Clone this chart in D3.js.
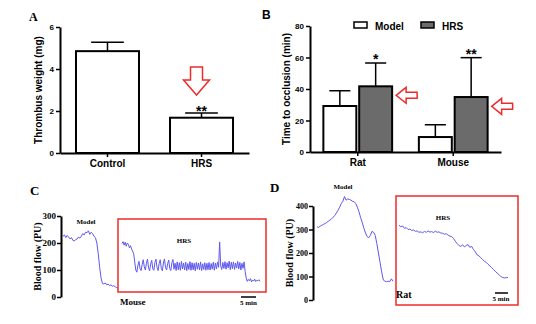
<!DOCTYPE html>
<html>
<head>
<meta charset="utf-8">
<script src="https://cdn.jsdelivr.net/npm/d3@7"></script>
<style>
  body { margin: 0; background: #fff; }
  svg { display: block; }
  .sans text, text.sans { font-family: "Liberation Sans", Arial, sans-serif; font-weight: bold; }
  .serif text, text.serif { font-family: "Liberation Serif", "Times New Roman", serif; font-weight: bold; }
</style>
</head>
<body>
<div id="fig"></div>
<script>
// ---- data ----
// Panel A: thrombus weight
const groupsA = ["Control", "HRS"];
const meanA = [4.85, 1.68];
const errA = [0.42, 0.22];
const starsA = ["", "**"];
const ticksA = [0, 2, 4, 6];

// Panel B: time to occlusion
const speciesB = ["Rat", "Mouse"];
const seriesB = ["Model", "HRS"];
const modelB = [29.2, 9.5];
const modelErrB = [9.7, 7.8];
const hrsB = [41.7, 34.9];
const hrsErrB = [14.8, 25.0];
const starsB = ["*", "**"];
const ticksB = [0, 20, 40, 60, 80];

// Panel C: mouse blood flow traces (PU)
const ticksC = [0, 100, 200, 300];
const traceModelC = [225, 230, 220, 228, 222, 215, 220, 210, 208, 212, 215, 222, 218, 225, 235, 230, 240, 238, 245, 232,
  240, 235, 225, 220, 200, 160, 110, 70, 50, 48, 52, 45, 48, 42, 45, 40, 42, 38, 35, 33];
const traceHrsC = [198, 205, 192, 203, 188, 200, 195, 182, 190, 178, 170, 160,
  130, 100, 92,
  118, 132, 105, 98, 120, 138, 112, 100, 125, 140, 108, 97, 122, 136, 104, 99, 128, 140, 110, 98, 124, 138, 106, 97, 126, 141, 109, 100, 123, 137, 105, 98, 127, 139,
  103, 125, 98, 130, 101, 127, 99, 132, 104, 126, 100, 129, 98, 124, 102, 131, 99, 127, 101, 125, 97, 128, 103, 126, 100, 130, 98, 123, 102, 127, 99, 125, 101, 128, 100, 124, 103, 129, 99, 126,
  104, 130, 110, 204, 115, 102, 128, 106, 131, 103, 127, 108, 133, 101, 129, 105, 130, 102, 126, 107, 132, 104, 128, 100, 125, 106, 130,
  95, 70, 58, 65, 60, 68, 56, 63, 59, 66, 57, 62, 60, 64, 58];

// Panel D: rat blood flow traces (PU)
const ticksD = [0, 100, 200, 300, 400];
const traceModelD = [312, 308, 315, 318, 322, 325, 330, 335, 340, 345, 352, 360, 370, 382, 395, 410, 420, 440, 425, 430,
  428, 425, 420, 418, 410, 395, 375, 350, 330, 305, 285, 270, 265, 275, 292, 288, 275, 240, 200, 160,
  120, 85, 80, 78, 80, 78, 90, 80];
const traceHrsD = [318, 312, 315, 305, 308, 300, 302, 296, 298, 292, 294, 288,
  290, 286, 292, 288, 294, 289, 291, 287, 293, 288, 290, 285,
  284, 280, 282, 276, 272, 270,
  262, 250, 240, 232,
  228, 235, 226, 232, 236, 224,
  228, 215, 205, 192,
  188, 180, 172, 165, 160, 152, 145, 138, 130, 122, 115, 108, 100, 96,
  94, 95, 96];

const red = "#ee2b2b";
const trace = "#5f58ef";
const gray = "#6b6b6b";
const intFmt = d3.format("d");

const svg = d3.select("#fig").append("svg")
  .attr("width", 536)
  .attr("height", 324);

// arrows (tip at 0,0)
function downArrow(hw, hh, sw, sl) {
  return `M0,0L${-hw},${-hh}L${-sw},${-hh}L${-sw},${-hh - sl}L${sw},${-hh - sl}L${sw},${-hh}L${hw},${-hh}Z`;
}
function leftArrow(hw, hh, sw, sl) {
  return `M0,0L${hh},${-hw}L${hh},${-sw}L${hh + sl},${-sw}L${hh + sl},${sw}L${hh},${sw}L${hh},${hw}Z`;
}

function styleAxis(g) {
  g.select(".domain").attr("stroke", "#000").attr("stroke-width", 2);
  g.selectAll(".tick line").attr("stroke", "#000").attr("stroke-width", 1.5);
}

// ================= PANEL A =================
const gA = svg.append("g").attr("class", "sans");
const xA = d3.scaleBand().domain(groupsA).range([60, 249]).paddingInner(0.33).paddingOuter(0.17);
const yA = d3.scaleLinear().domain([0, 6]).range([153, 27]);

gA.append("g").attr("transform", "translate(60,0)")
  .call(d3.axisLeft(yA).tickValues(ticksA).tickFormat(intFmt).tickSize(4).tickSizeOuter(0).tickPadding(2))
  .call(styleAxis)
  .selectAll("text").attr("font-size", 8);
gA.append("g").attr("transform", "translate(0,153)")
  .call(d3.axisBottom(xA).tickSize(4).tickSizeOuter(0).tickPadding(3))
  .call(styleAxis)
  .selectAll("text").attr("font-size", 10);

const dA = groupsA.map((g, i) => ({ g, m: meanA[i], e: errA[i], s: starsA[i] }));
gA.selectAll(".errA").data(dA).join("g").each(function (d) {
  const cx = xA(d.g) + xA.bandwidth() / 2;
  const cw = xA.bandwidth() * 0.26;
  const g = d3.select(this).attr("stroke", "#000").attr("stroke-width", 1.5);
  g.append("line").attr("x1", cx).attr("x2", cx).attr("y1", yA(d.m)).attr("y2", yA(d.m + d.e));
  g.append("line").attr("x1", cx - cw).attr("x2", cx + cw).attr("y1", yA(d.m + d.e)).attr("y2", yA(d.m + d.e));
});
gA.selectAll(".barA").data(dA).join("rect")
  .attr("x", d => xA(d.g)).attr("width", xA.bandwidth())
  .attr("y", d => yA(d.m)).attr("height", d => yA(0) - yA(d.m))
  .attr("fill", "#fff").attr("stroke", "#000").attr("stroke-width", 2);
gA.selectAll(".starA").data(dA).join("text")
  .attr("x", d => xA(d.g) + xA.bandwidth() / 2)
  .attr("y", d => yA(d.m + d.e) + 3)
  .attr("text-anchor", "middle").attr("font-size", 14)
  .text(d => d.s);

gA.append("path")
  .attr("transform", `translate(${xA("HRS") + xA.bandwidth() / 2 - 5},${yA(2.76)})`)
  .attr("d", downArrow(13, 15, 6, 13))
  .attr("fill", "#fff").attr("stroke", red).attr("stroke-width", 1.5);

gA.append("text")
  .attr("transform", `translate(42,${(27 + 153) / 2}) rotate(-90)`)
  .attr("text-anchor", "middle").attr("font-size", 10)
  .text("Thrombus weight (mg)");
gA.append("text").attr("class", "serif").attr("x", 29).attr("y", 21)
  .attr("font-size", 12).attr("font-family", "Liberation Serif").text("A");

// ================= PANEL B =================
const gB = svg.append("g").attr("class", "sans");
const x0B = d3.scaleBand().domain(speciesB).range([310, 501]).paddingInner(0.28).paddingOuter(0.14);
const x1B = d3.scaleBand().domain(seriesB).range([0, x0B.bandwidth()]).paddingInner(0.08);
const yB = d3.scaleLinear().domain([0, 80]).range([152, 26]);

gB.append("g").attr("transform", "translate(310,0)")
  .call(d3.axisLeft(yB).tickValues(ticksB).tickFormat(intFmt).tickSize(4).tickSizeOuter(0).tickPadding(2))
  .call(styleAxis)
  .selectAll("text").attr("font-size", 8);
gB.append("g").attr("transform", "translate(0,152)")
  .call(d3.axisBottom(x0B).tickSize(4).tickSizeOuter(0).tickPadding(3))
  .call(styleAxis)
  .selectAll("text").attr("font-size", 10);

const dB = [];
speciesB.forEach((sp, i) => {
  dB.push({ sp, s: "Model", m: modelB[i], e: modelErrB[i], star: "" });
  dB.push({ sp, s: "HRS", m: hrsB[i], e: hrsErrB[i], star: starsB[i] });
});
const bx = d => x0B(d.sp) + x1B(d.s);
gB.selectAll(".errB").data(dB).join("g").each(function (d) {
  const cx = bx(d) + x1B.bandwidth() / 2;
  const cw = x1B.bandwidth() * 0.32;
  const g = d3.select(this).attr("stroke", "#000").attr("stroke-width", 1.5);
  g.append("line").attr("x1", cx).attr("x2", cx).attr("y1", yB(d.m)).attr("y2", yB(d.m + d.e));
  g.append("line").attr("x1", cx - cw).attr("x2", cx + cw).attr("y1", yB(d.m + d.e)).attr("y2", yB(d.m + d.e));
});
gB.selectAll(".barB").data(dB).join("rect")
  .attr("x", bx).attr("width", x1B.bandwidth())
  .attr("y", d => yB(d.m)).attr("height", d => yB(0) - yB(d.m))
  .attr("fill", d => d.s === "HRS" ? gray : "#fff")
  .attr("stroke", "#000").attr("stroke-width", 2);
gB.selectAll(".starB").data(dB).join("text")
  .attr("x", d => bx(d) + x1B.bandwidth() / 2)
  .attr("y", d => yB(d.m + d.e) + 1)
  .attr("text-anchor", "middle").attr("font-size", 14)
  .text(d => d.star);

// red arrows pointing at HRS bars
const arrowB = [36, 29];
gB.selectAll(".arrB").data(speciesB).join("path")
  .attr("transform", (sp, i) => `translate(${x0B(sp) + x1B("HRS") + x1B.bandwidth() + 4},${yB(arrowB[i])})`)
  .attr("d", leftArrow(8, 10, 3, 11))
  .attr("fill", "#fff").attr("stroke", red).attr("stroke-width", 1.5);

// legend
const leg = gB.selectAll(".leg").data(seriesB).join("g")
  .attr("transform", (s, i) => `translate(${354 + i * 67},22)`);
leg.append("rect").attr("width", 13).attr("height", 6)
  .attr("fill", s => s === "HRS" ? gray : "#fff").attr("stroke", "#000").attr("stroke-width", 1.5);
leg.append("text").attr("x", 21).attr("y", 7.5).attr("font-size", 10).text(s => s);

gB.append("text")
  .attr("transform", `translate(290,${(26 + 152) / 2}) rotate(-90)`)
  .attr("text-anchor", "middle").attr("font-size", 10)
  .text("Time to occlusion (min)");
gB.append("text").attr("x", 262).attr("y", 19)
  .attr("font-size", 12).attr("font-family", "Liberation Serif").text("B");

// ================= PANEL C =================
const gC = svg.append("g").attr("class", "serif");
const yC = d3.scaleLinear().domain([0, 300]).range([297, 216]);
const xCm = d3.scaleLinear().domain([0, traceModelC.length - 1]).range([63, 118]);
const xCh = d3.scaleLinear().domain([0, traceHrsC.length - 1]).range([122, 260]);

gC.append("g").attr("transform", "translate(61,0)")
  .call(d3.axisLeft(yC).tickValues(ticksC).tickFormat(intFmt).tickSize(4).tickSizeOuter(0).tickPadding(1))
  .call(styleAxis)
  .selectAll("text").attr("font-size", 9);

gC.append("rect").attr("x", 118).attr("y", 219).attr("width", 148).attr("height", 73)
  .attr("fill", "none").attr("stroke", red).attr("stroke-width", 1.5);

gC.append("path").datum(traceModelC)
  .attr("d", d3.line().x((d, i) => xCm(i)).y(d => yC(d)))
  .attr("fill", "none").attr("stroke", trace).attr("stroke-width", 1);
gC.append("path").datum(traceHrsC)
  .attr("d", d3.line().x((d, i) => xCh(i)).y(d => yC(d)))
  .attr("fill", "none").attr("stroke", trace).attr("stroke-width", 1);

gC.append("text").attr("x", 86).attr("y", 224).attr("text-anchor", "middle").attr("font-size", 7).text("Model");
gC.append("text").attr("x", 184).attr("y", 243).attr("text-anchor", "middle").attr("font-size", 7).text("HRS");
gC.append("text").attr("x", 120).attr("y", 305).attr("font-size", 9).text("Mouse");
gC.append("line").attr("x1", 241).attr("x2", 256).attr("y1", 297).attr("y2", 297)
  .attr("stroke", "#000").attr("stroke-width", 1.5);
gC.append("text").attr("x", 248.5).attr("y", 305).attr("text-anchor", "middle").attr("font-size", 7).text("5 min");

gC.append("text")
  .attr("transform", `translate(41,${(216 + 297) / 2}) rotate(-90)`)
  .attr("text-anchor", "middle").attr("font-size", 10)
  .text("Blood flow (PU)");
gC.append("text").attr("x", 30).attr("y", 195).attr("font-size", 13).text("C");

// ================= PANEL D =================
const gD = svg.append("g").attr("class", "serif");
const yD = d3.scaleLinear().domain([0, 400]).range([300, 206]);
const xDm = d3.scaleLinear().domain([0, traceModelD.length - 1]).range([317, 393]);
const xDh = d3.scaleLinear().domain([0, traceHrsD.length - 1]).range([399, 508]);

gD.append("g").attr("transform", "translate(313,0)")
  .call(d3.axisLeft(yD).tickValues(ticksD).tickFormat(intFmt).tickSize(4).tickSizeOuter(0).tickPadding(1))
  .call(styleAxis)
  .selectAll("text").attr("font-size", 8);

gD.append("rect").attr("x", 396).attr("y", 196).attr("width", 122).attr("height", 109)
  .attr("fill", "none").attr("stroke", red).attr("stroke-width", 1.5);

gD.append("path").datum(traceModelD)
  .attr("d", d3.line().x((d, i) => xDm(i)).y(d => yD(d)))
  .attr("fill", "none").attr("stroke", trace).attr("stroke-width", 1);
gD.append("path").datum(traceHrsD)
  .attr("d", d3.line().x((d, i) => xDh(i)).y(d => yD(d)))
  .attr("fill", "none").attr("stroke", trace).attr("stroke-width", 1);

gD.append("text").attr("x", 343).attr("y", 189).attr("text-anchor", "middle").attr("font-size", 7).text("Model");
gD.append("text").attr("x", 443).attr("y", 220).attr("text-anchor", "middle").attr("font-size", 7).text("HRS");
gD.append("text").attr("x", 396).attr("y", 298).attr("font-size", 10).text("Rat");
gD.append("line").attr("x1", 495).attr("x2", 508).attr("y1", 293).attr("y2", 293)
  .attr("stroke", "#000").attr("stroke-width", 1.5);
gD.append("text").attr("x", 501).attr("y", 301).attr("text-anchor", "middle").attr("font-size", 7).text("5 min");

gD.append("text")
  .attr("transform", `translate(293,${(206 + 300) / 2}) rotate(-90)`)
  .attr("text-anchor", "middle").attr("font-size", 10)
  .text("Blood flow (PU)");
gD.append("text").attr("x", 270).attr("y", 192).attr("font-size", 13).text("D");
</script>
</body>
</html>
